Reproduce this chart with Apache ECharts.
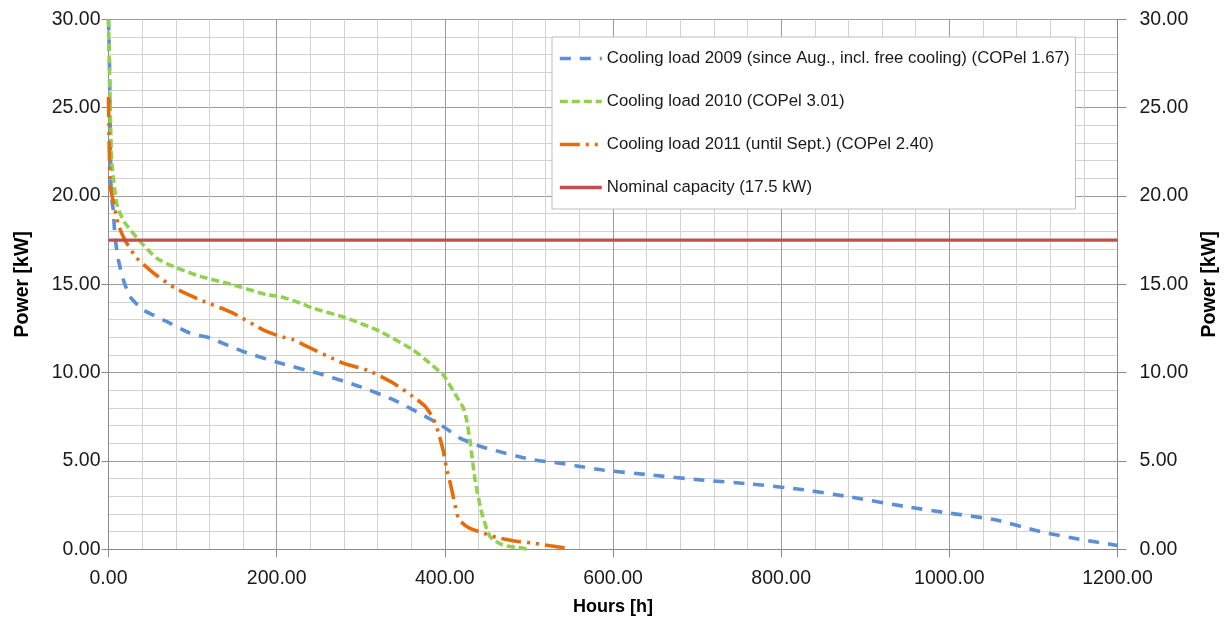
<!DOCTYPE html>
<html>
<head>
<meta charset="utf-8">
<script src="https://cdn.jsdelivr.net/npm/echarts@6/dist/echarts.min.js"></script>
<style>
html,body{margin:0;padding:0;background:#fff;}
#chart{width:1228px;height:623px;}
</style>
</head>
<body>
<div id="chart"></div>
<script>
// ---- data (hours, kW) ----
const load2009 = [[0,30],[1,28],[1.5,26],[2,24],[2.5,22],[3,20.5],[4.5,19.6],[5.7,19.2],[7.7,17.7],[11.7,16.4],[17.6,15.26],[25.6,14.3],[41,13.56],[69,12.9],[97,12.24],[121,11.95],[160,11.2],[204,10.54],[255,9.88],[299,9.21],[339,8.46],[370,7.7],[398,6.95],[418,6.29],[438,5.9],[450,5.72],[501,5.1],[537,4.87],[557,4.72],[588,4.49],[644,4.21],[704,3.93],[763,3.7],[822,3.4],[880,2.98],[949,2.41],[1001,2.04],[1056,1.66],[1108,1.0],[1155,0.57],[1200,0.22]];
const load2010 = [[0,30],[1,27.5],[2,25],[3,23],[4,21.8],[5.8,21.0],[8,20.1],[9.7,19.6],[14,19.0],[19.6,18.47],[37.5,17.43],[57,16.49],[77,16.01],[109,15.45],[148,14.97],[188,14.41],[204,14.31],[228,13.94],[243,13.65],[283,13.09],[323,12.33],[362,11.29],[382,10.54],[398,9.88],[402,9.59],[414,8.65],[422,8.0],[426,7.3],[430,6.1],[436,3.93],[444,2.04],[454,0.71],[469,0.24],[493,0.06],[497,0]];
const load2011 = [[0,25.6],[0.5,24],[1,22.5],[1.8,20.9],[3,20.3],[5.7,19.7],[11.7,18.37],[19.6,17.5],[33.5,16.49],[49,15.82],[59,15.44],[79,14.79],[109,14.12],[148,13.37],[184,12.42],[204,12.05],[220,11.86],[236,11.48],[279,10.54],[309,10.12],[339,9.4],[362,8.65],[376,8.12],[386,7.42],[392,6.66],[398,5.6],[402,4.59],[406,3.83],[410,2.98],[416,1.76],[423,1.4],[430,1.19],[446,0.91],[461,0.68],[489,0.43],[507,0.34],[525,0.2],[541,0.09],[544,0.05]];
const nominal = [[0,17.5],[1200,17.5]];
const seriesNames = [
  'Cooling load 2009 (since Aug., incl. free cooling) (COPel 1.67)',
  'Cooling load 2010 (COPel 3.01)',
  'Cooling load 2011 (until Sept.) (COPel 2.40)',
  'Nominal capacity (17.5 kW)'
];
const xTitle = 'Hours [h]';
const yTitle = 'Power [kW]';

const FONT = '"Liberation Sans", Arial, sans-serif';
const fmt = v => v.toFixed(2);
const axisLineColor = '#8a8a8a';
const majorGrid = '#9c9c9c';
const minorGrid = '#d2d2d2';

function yAxis(pos){
  const right = pos === 'right';
  return {
    type:'value', position: pos, min:0, max:30, interval:5,
    name: yTitle, nameLocation:'middle', nameGap: right ? 75 : 76,
    nameTextStyle:{fontFamily:FONT, fontSize:19.5, fontWeight:'bold', color:'#000'},
    axisLine:{show:true, lineStyle:{color:axisLineColor}},
    axisTick:{show:true, length: right ? 9 : 7, lineStyle:{color:axisLineColor}},
    axisLabel:{formatter:fmt, fontFamily:FONT, fontSize:19.5, color:'#1a1a1a', margin: right ? 22 : 8},
    splitLine:{show: !right, lineStyle:{color:majorGrid}},
    minorTick:{show:false, splitNumber:5},
    minorSplitLine:{show: !right, lineStyle:{color:minorGrid}}
  };
}

const chart = echarts.init(document.getElementById('chart'), null, {renderer:'canvas'});
chart.setOption({
  animation:false,
  backgroundColor:'#fff',
  grid:{left:108.5, right:110.5, top:19.3, bottom:73.7, containLabel:false},
  xAxis:{
    type:'value', min:0, max:1200, interval:200,
    name: xTitle, nameLocation:'middle', nameGap:49,
    nameTextStyle:{fontFamily:FONT, fontSize:18, fontWeight:'bold', color:'#000'},
    axisLine:{show:true, lineStyle:{color:axisLineColor}},
    axisTick:{show:true, length:8, lineStyle:{color:axisLineColor}},
    axisLabel:{formatter:fmt, fontFamily:FONT, fontSize:19.5, color:'#1a1a1a', margin:19},
    splitLine:{show:true, lineStyle:{color:majorGrid}},
    minorTick:{show:false, splitNumber:5},
    minorSplitLine:{show:true, lineStyle:{color:minorGrid}}
  },
  yAxis:[yAxis('left'), yAxis('right')],
  legend:{
    orient:'vertical', left:552, top:37,
    padding:[13,6,13,6], itemGap:26, itemWidth:42, itemHeight:14,
    backgroundColor:'#fff', borderColor:'#bdbdbd', borderWidth:1,
    textStyle:{fontFamily:FONT, fontSize:16.8, color:'#1a1a1a'},
    itemStyle:{opacity:0, color:'transparent', borderWidth:0},
    lineStyle:{width:3.6},
    data: seriesNames
  },
  series:[
    {name:seriesNames[0], type:'line', data:load2009, showSymbol:false, symbol:'none', smooth:0.2, z:2,
     lineStyle:{color:'#5b8fd6', width:3.6, type:[11,9], cap:'butt'}, itemStyle:{color:'#5b8fd6'}},
    {name:seriesNames[1], type:'line', data:load2010, showSymbol:false, symbol:'none', smooth:0.2, z:3,
     lineStyle:{color:'#92d050', width:3.6, type:[8,4], cap:'butt'}, itemStyle:{color:'#92d050'}},
    {name:seriesNames[2], type:'line', data:load2011, showSymbol:false, symbol:'none', smooth:0.2, z:4,
     lineStyle:{color:'#e46c0a', width:3.6, type:[20,6,3,6,3,6], cap:'butt'}, itemStyle:{color:'#e46c0a'}},
    {name:seriesNames[3], type:'line', data:nominal, showSymbol:false, symbol:'none', z:5,
     lineStyle:{color:'#c0504d', width:3.4, type:'solid'}, itemStyle:{color:'#c0504d'}}
  ]
});
</script>
</body>
</html>
